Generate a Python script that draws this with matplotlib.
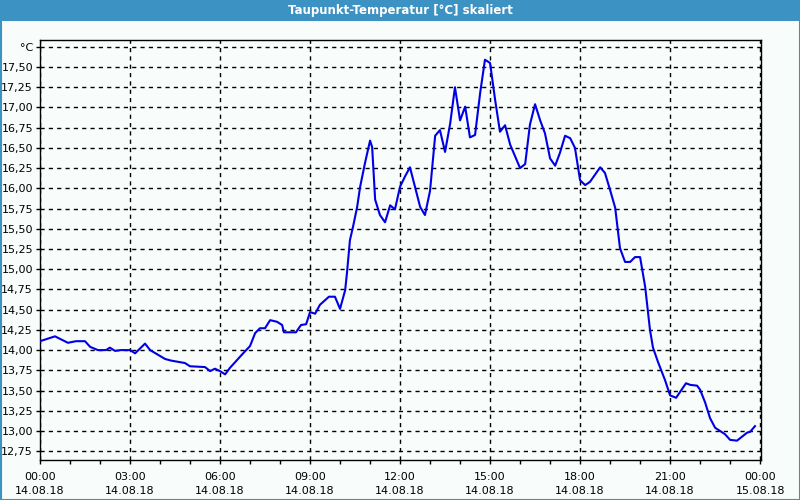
import matplotlib
matplotlib.use("Agg")
import matplotlib.pyplot as plt
from matplotlib.patches import Rectangle

title = "Taupunkt-Temperatur [°C] skaliert"

# hours since 14.08.18 00:00
hours = [0.0, 0.5, 0.93, 1.2, 1.5, 1.67, 1.93, 2.2, 2.33, 2.5, 2.7, 3.0,
         3.17, 3.5, 3.67, 4.17, 4.37, 4.83, 5.0, 5.5, 5.67, 5.83, 6.0, 6.17,
         6.33, 6.77, 7.0, 7.17, 7.33, 7.5, 7.67, 7.9, 8.07, 8.13, 8.53, 8.7,
         8.87, 9.0, 9.17, 9.33, 9.63, 9.83, 10.0, 10.17, 10.23, 10.33, 10.43,
         10.57, 10.67, 10.83, 11.0, 11.07, 11.17, 11.33, 11.5, 11.67, 11.83,
         12.0, 12.17, 12.33, 12.67, 12.83, 13.0, 13.17, 13.33, 13.5, 13.67,
         13.83, 14.0, 14.17, 14.33, 14.5, 14.67, 14.83, 15.0, 15.17, 15.33,
         15.5, 15.67, 16.0, 16.17, 16.33, 16.5, 16.67, 16.83, 17.0, 17.17,
         17.33, 17.5, 17.67, 17.83, 18.0, 18.17, 18.33, 18.67, 18.83, 19.0,
         19.17, 19.33, 19.5, 19.67, 19.83, 20.0, 20.17, 20.33, 20.43, 20.6,
         20.83, 21.0, 21.2, 21.53, 21.67, 21.9, 22.0, 22.17, 22.33, 22.5,
         22.83, 23.0, 23.23, 23.57, 23.67, 23.83]
dew = [14.11, 14.17, 14.09, 14.11, 14.11, 14.04, 14.0, 14.0, 14.03, 13.99,
       14.0, 14.0, 13.96, 14.08, 14.0, 13.89, 13.87, 13.84, 13.80, 13.79,
       13.74, 13.77, 13.74, 13.70, 13.78, 13.96, 14.05, 14.21, 14.27, 14.27,
       14.37, 14.35, 14.31, 14.22, 14.22, 14.31, 14.32, 14.47, 14.45, 14.56,
       14.66, 14.66, 14.51, 14.74, 14.95, 15.36, 15.52, 15.77, 16.02, 16.31,
       16.59, 16.51, 15.86, 15.67, 15.58, 15.79, 15.74, 16.02, 16.15, 16.26,
       15.77, 15.67, 15.97, 16.65, 16.72, 16.45, 16.80, 17.25, 16.84, 17.01,
       16.63, 16.66, 17.18, 17.59, 17.55, 17.09, 16.70, 16.78, 16.54, 16.25,
       16.30, 16.79, 17.04, 16.84, 16.68, 16.37, 16.28, 16.44, 16.65, 16.62,
       16.50, 16.10, 16.04, 16.08, 16.26, 16.19, 15.98, 15.76, 15.26, 15.09,
       15.09, 15.15, 15.15, 14.78, 14.25, 14.03, 13.85, 13.63, 13.44, 13.41,
       13.59, 13.57, 13.56, 13.51, 13.35, 13.16, 13.04, 12.96, 12.89, 12.88,
       12.98, 12.99, 13.06]

x_ticks = [0, 3, 6, 9, 12, 15, 18, 21, 24]
x_labels = ["00:00\n14.08.18", "03:00\n14.08.18", "06:00\n14.08.18",
            "09:00\n14.08.18", "12:00\n14.08.18", "15:00\n14.08.18",
            "18:00\n14.08.18", "21:00\n14.08.18", "00:00\n15.08.18"]
y_ticks = [12.75, 13.0, 13.25, 13.5, 13.75, 14.0, 14.25, 14.5, 14.75, 15.0,
           15.25, 15.5, 15.75, 16.0, 16.25, 16.5, 16.75, 17.0, 17.25, 17.5,
           17.75]
y_unit = "°C"

bg = "#f8fcfa"
frame = "#3c93c3"

plt.rcParams["font.family"] = ["DejaVu Sans"]
fig = plt.figure(figsize=(8, 5), dpi=100, facecolor=bg)

# title bar and window border
fig.patches.append(Rectangle((0, 1 - 21 / 500), 1, 21 / 500, transform=fig.transFigure,
                             facecolor=frame, edgecolor="none"))
fig.patches.append(Rectangle((0.5 / 800, 0.5 / 500), 1 - 1 / 800, 1 - 1 / 500,
                             transform=fig.transFigure, facecolor="none",
                             edgecolor=frame, linewidth=1.5))
fig.text(0.5, 1 - 10.5 / 500, title, color="white", fontsize=8.5,
         fontweight="bold", ha="center", va="center")

ax = fig.add_axes([40 / 800, 40 / 500, 721 / 800, 420 / 500])
ax.set_facecolor(bg)
ax.plot(hours, dew, color="#0000e6", linewidth=1.5, zorder=3)

ax.set_xlim(0, 24.03)
ax.set_ylim(12.641, 17.834)
ax.set_xticks(x_ticks)
ax.set_xticklabels(x_labels, fontsize=8, linespacing=1.5)
ax.set_xticks(range(0, 25), minor=True)
ax.set_yticks(y_ticks)
ax.set_yticklabels([f"{v:.2f}".replace(".", ",") for v in y_ticks[:-1]] + [y_unit],
                   fontsize=8)

ax.tick_params(axis="both", which="both", direction="out", length=3, width=1,
               color="black", pad=2)
ax.tick_params(axis="x", which="major", pad=6)
ax.grid(True, which="major", color="black", linestyle=(0, (3, 3)), linewidth=1)
for s in ax.spines.values():
    s.set_linewidth(1)
    s.set_color("black")

fig.savefig("out.png", dpi=100, facecolor=bg)
